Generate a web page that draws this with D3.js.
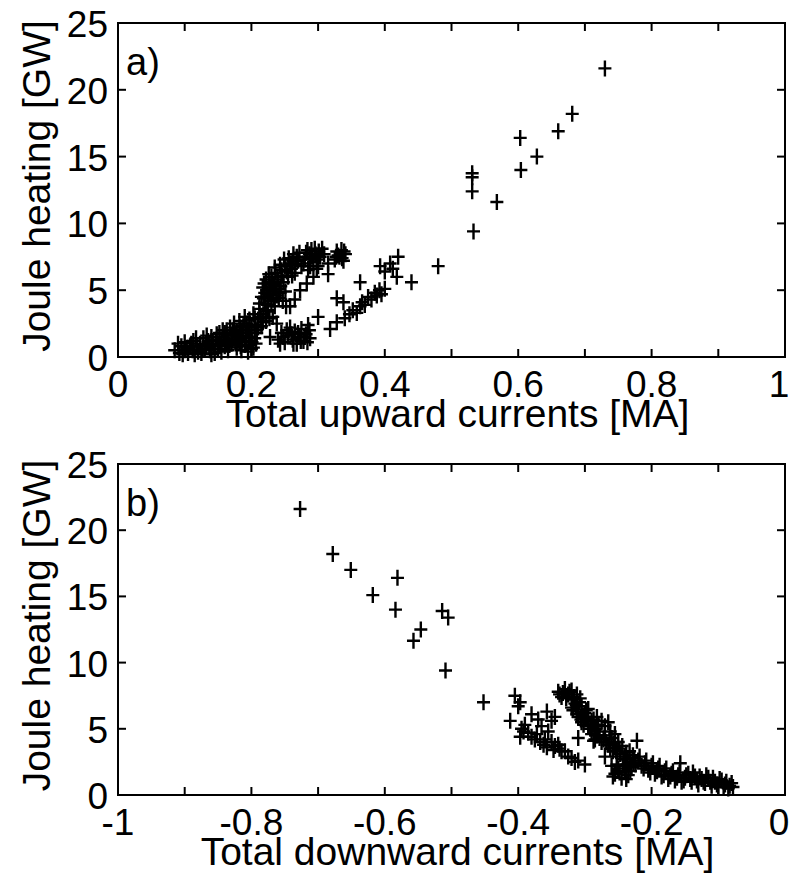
<!DOCTYPE html>
<html>
<head>
<meta charset="utf-8">
<script src="https://d3js.org/d3.v7.min.js"></script>
<style>
body { margin: 0; background: #fff; }
text { font-family: "Liberation Sans", Arial, Helvetica, sans-serif; fill: #000; }
</style>
</head>
<body>
<svg width="792" height="875"></svg>
<script>

// Total upward currents [MA] vs Joule heating [GW]
var upwardData = [
  [0.085,0.5],[0.092,0.3],[0.095,0.8],[0.100,0.5],[0.100,1.1],[0.105,0.3],[0.108,0.8],[0.112,0.5],
  [0.113,1.2],[0.118,0.8],[0.120,0.4],[0.123,1.0],[0.127,0.6],[0.128,1.4],[0.132,0.9],[0.135,1.2],
  [0.138,0.5],[0.140,1.5],[0.143,0.9],[0.147,1.3],[0.150,0.6],[0.152,1.8],[0.155,1.1],[0.158,1.5],
  [0.160,0.8],[0.163,2.0],[0.165,1.3],[0.168,2.2],[0.170,1.6],[0.174,2.5],[0.176,1.1],[0.178,1.9],
  [0.182,2.7],[0.184,0.8],[0.186,1.4],[0.188,2.3],[0.190,3.0],[0.192,1.1],[0.195,2.0],[0.197,2.8],
  [0.200,0.6],[0.200,1.5],[0.203,3.2],[0.205,2.4],[0.207,1.0],[0.208,1.8],[0.185,0.5],[0.190,0.9],
  [0.195,0.4],[0.198,1.2],[0.203,0.7],
  [0.090,1.0],[0.097,0.2],[0.103,0.7],[0.110,1.0],[0.115,0.2],[0.117,1.4],[0.125,0.3],[0.130,0.6],
  [0.133,1.6],[0.137,0.8],[0.142,1.2],[0.145,0.3],[0.148,1.7],[0.153,0.9],[0.157,2.0],[0.162,1.2],
  [0.167,0.9],[0.172,2.0],[0.172,1.3],[0.180,1.5],[0.183,2.2],[0.188,1.8],[0.193,2.5],[0.196,1.5],
  [0.200,2.2],[0.205,2.9],[0.201,1.1],
  [0.140,0.2],[0.150,1.0],[0.155,0.4],[0.160,1.8],[0.165,0.5],[0.170,1.0],[0.175,1.8],[0.178,0.7],
  [0.182,1.2],[0.186,2.0],[0.192,1.6],[0.197,2.3],[0.205,1.4],[0.210,2.2],[0.217,2.6],[0.222,3.4],
  [0.227,2.9],
  [0.210,2.8],[0.212,3.6],[0.215,2.3],[0.218,3.2],[0.220,4.0],[0.222,2.7],[0.225,3.5],[0.228,1.5],
  [0.230,4.2],[0.232,3.0],[0.235,3.8],[0.238,2.5],
  [0.215,4.5],[0.217,5.2],[0.220,4.8],[0.222,5.8],[0.225,4.4],[0.227,5.5],[0.230,6.0],[0.232,4.9],
  [0.234,5.4],[0.236,6.3],[0.238,4.6],[0.240,5.8],[0.242,5.1],[0.245,6.5],[0.247,4.2],[0.248,5.6],
  [0.250,6.8],[0.252,3.8],[0.255,6.0],[0.257,7.0],[0.260,6.6],[0.262,7.2],[0.265,6.3],[0.268,7.5],
  [0.212,4.0],[0.214,3.0],[0.218,4.4],[0.219,5.5],[0.223,5.0],[0.224,3.9],[0.226,6.2],[0.228,4.7],
  [0.229,5.2],[0.231,5.6],[0.233,4.3],[0.235,6.7],[0.237,5.1],[0.239,6.0],[0.241,4.4],[0.243,6.9],
  [0.244,5.3],[0.246,6.1],[0.249,7.3],[0.251,4.9],[0.253,6.4],[0.256,7.4],[0.259,7.0],[0.261,6.1],
  [0.263,7.7],[0.266,6.9],[0.270,7.2],[0.272,7.8],[0.275,6.8],[0.280,7.3],[0.284,8.0],[0.287,7.7],
  [0.291,7.5],[0.295,8.1],[0.298,7.3],[0.301,7.9],[0.309,7.7],[0.330,7.6],[0.336,7.4],[0.339,7.9],
  [0.327,7.5],
  [0.278,7.0],[0.282,7.8],[0.285,6.5],[0.288,7.4],[0.290,8.0],[0.293,7.1],[0.296,7.7],[0.300,6.8],
  [0.303,7.5],[0.306,8.1],[0.325,7.3],[0.328,7.9],[0.332,7.5],[0.335,8.0],[0.338,7.2],[0.341,7.7],
  [0.208,2.0],[0.243,4.8],[0.258,3.8],[0.265,4.3],[0.273,5.0],[0.283,5.5],[0.293,6.0],[0.288,6.8],
  [0.298,6.6],[0.315,7.0],[0.315,6.2],
  [0.240,1.3],[0.245,1.8],[0.250,1.1],[0.255,1.6],[0.258,2.2],[0.262,1.3],[0.265,1.9],[0.268,1.0],
  [0.272,1.5],[0.275,2.1],[0.278,1.2],[0.282,1.7],[0.285,2.4],[0.288,1.4],
  [0.243,1.0],[0.248,1.5],[0.253,2.0],[0.260,1.7],[0.263,1.0],[0.270,1.8],[0.274,1.2],[0.280,1.5],
  [0.284,1.1],[0.287,2.0],
  [0.300,3.0],[0.318,2.1],[0.328,2.6],[0.328,4.4],[0.338,4.1],[0.340,2.9],[0.347,3.2],[0.352,3.5],
  [0.358,3.3],[0.363,3.8],[0.366,4.1],[0.370,3.9],[0.375,4.5],[0.380,4.3],[0.385,4.8],[0.388,4.6],
  [0.392,5.0],[0.395,4.7],[0.400,5.1],[0.393,6.8],[0.400,6.4],[0.408,7.0],[0.412,6.6],[0.418,6.0],
  [0.420,7.5],[0.363,5.6],[0.440,5.6],[0.480,6.8],
  [0.533,9.4],[0.568,11.6],[0.531,12.4],[0.531,13.45],[0.531,13.75],[0.604,14.0],[0.628,15.0],
  [0.603,16.4],[0.660,16.9],[0.681,18.2],[0.730,21.6]
];

// Total downward currents [MA] vs Joule heating [GW]
var downwardData = [
  [-0.727,21.6],[-0.678,18.2],[-0.651,17.0],[-0.581,16.4],[-0.618,15.1],[-0.584,14.0],[-0.514,13.9],
  [-0.505,13.4],[-0.546,12.5],[-0.557,11.65],[-0.509,9.4],[-0.452,7.0],
  [-0.405,7.5],[-0.397,7.0],[-0.400,6.7],[-0.412,5.6],[-0.380,6.1],[-0.357,6.3],[-0.350,5.6],
  [-0.395,5.0],[-0.385,4.7],[-0.397,4.4],[-0.380,4.4],[-0.367,4.0],[-0.372,4.6],[-0.357,3.6],
  [-0.360,4.2],[-0.347,3.4],[-0.350,4.0],[-0.335,3.3],[-0.340,3.8],[-0.325,2.9],[-0.330,3.3],
  [-0.310,2.6],[-0.300,2.3],[-0.365,5.2],[-0.355,4.8],
  [-0.392,4.8],[-0.375,4.2],[-0.362,3.8],[-0.345,3.7],[-0.338,3.5],[-0.320,2.8],[-0.315,2.5],
  [-0.390,5.3],[-0.370,5.7],[-0.345,5.9],
  [-0.340,7.8],[-0.335,7.4],[-0.330,8.0],[-0.325,7.6],[-0.320,7.9],[-0.318,7.2],[-0.312,7.6],[-0.308,7.0],
  [-0.320,6.6],[-0.315,6.9],[-0.310,6.3],[-0.305,6.7],[-0.300,6.2],[-0.295,6.5],
  [-0.310,5.9],[-0.305,5.5],[-0.300,5.8],[-0.295,5.2],[-0.290,5.6],[-0.287,5.7],[-0.285,4.9],[-0.280,5.3],
  [-0.290,4.6],[-0.285,4.2],[-0.280,4.8],[-0.275,4.0],[-0.270,4.5],[-0.265,3.8],[-0.260,4.3],[-0.255,3.6],
  [-0.250,4.0],[-0.310,4.3],[-0.287,4.1],
  [-0.270,5.2],[-0.262,4.8],[-0.255,4.6],[-0.275,5.6],[-0.282,5.9],[-0.265,5.5],
  [-0.338,7.6],[-0.333,7.7],[-0.328,7.3],[-0.323,7.8],[-0.316,7.4],[-0.313,6.8],[-0.307,7.3],[-0.318,6.4],
  [-0.312,6.1],[-0.303,6.0],[-0.298,6.4],[-0.306,5.7],[-0.302,5.3],[-0.297,5.9],[-0.292,5.0],[-0.288,5.3],
  [-0.283,5.0],[-0.282,4.5],[-0.278,4.3],[-0.272,4.2],[-0.268,4.0],[-0.263,4.2],[-0.262,3.5],[-0.257,3.9],
  [-0.253,3.3],[-0.247,3.1],[-0.244,3.7],[-0.240,2.9],[-0.236,2.7],[-0.233,3.3],[-0.226,2.8],[-0.224,2.3],
  [-0.218,2.9],[-0.212,2.0],[-0.208,2.6],[-0.202,1.7],[-0.198,2.4],[-0.192,1.8],[-0.188,2.2],[-0.182,1.5],
  [-0.178,2.0],[-0.172,1.4],[-0.168,1.8],[-0.162,1.3],[-0.158,1.7],[-0.152,1.1],[-0.148,1.5],[-0.142,1.2],
  [-0.138,1.7],[-0.132,1.1],[-0.128,1.4],[-0.122,1.0],[-0.118,1.5],[-0.112,1.0],[-0.108,1.3],[-0.102,0.8],
  [-0.098,1.2],[-0.092,0.6],[-0.088,1.0],[-0.083,0.7],[-0.258,1.4],[-0.252,2.3],[-0.248,1.7],[-0.243,2.2],
  [-0.238,1.2],[-0.232,1.8],[-0.227,2.4],[-0.237,2.3],
  [-0.258,3.3],[-0.252,2.9],[-0.248,3.5],[-0.242,2.7],[-0.238,3.2],[-0.232,2.5],[-0.228,3.0],[-0.222,4.1],
  [-0.220,2.6],[-0.215,2.2],[-0.270,2.9],
  [-0.260,2.2],[-0.255,1.6],[-0.250,2.0],[-0.245,1.3],[-0.240,1.8],[-0.235,1.5],[-0.230,2.1],
  [-0.210,2.4],[-0.205,1.9],[-0.200,2.2],[-0.195,1.6],[-0.190,2.0],[-0.185,1.4],[-0.180,1.8],[-0.175,1.2],
  [-0.170,1.6],[-0.165,1.1],[-0.160,1.5],[-0.157,2.4],[-0.155,1.0],[-0.150,1.3],
  [-0.145,1.6],[-0.140,1.0],[-0.135,1.4],[-0.130,0.8],[-0.125,1.2],[-0.120,0.9],[-0.115,1.3],[-0.110,0.7],
  [-0.105,1.0],[-0.100,0.6],[-0.095,1.1],[-0.090,0.8],[-0.085,0.5],[-0.080,0.9],[-0.078,0.6]
];

var heatTicks = [0, 5, 10, 15, 20, 25];
var upTicks = [0, 0.1, 0.2, 0.3, 0.4, 0.5, 0.6, 0.7, 0.8, 0.9, 1];
var upLabels = ["0", "0.2", "0.4", "0.6", "0.8", "1"];
var downTicks = [-1, -0.9, -0.8, -0.7, -0.6, -0.5, -0.4, -0.3, -0.2, -0.1, 0];
var downLabels = ["-1", "-0.8", "-0.6", "-0.4", "-0.2", "0"];

var svg = d3.select("svg");

var left = 118, right = 785;
var fontSize = 37;
var tickLen = 8;

function panel(data, domain, ticks, labels, top, bottom, xTitle, tag) {
  var x = d3.scaleLinear().domain(domain).range([left, right]);
  var y = d3.scaleLinear().domain([0, 25]).range([bottom, top]);
  var g = svg.append("g");

  // points
  g.append("g").selectAll("path")
    .data(data)
    .enter().append("path")
      .attr("d", "M-6.5,0H6.5M0,-8V8")
      .attr("transform", function(d) { return "translate(" + x(d[0]) + "," + y(d[1]) + ")"; })
      .attr("stroke", "#000")
      .attr("stroke-width", 2.4)
      .attr("fill", "none");

  // inward ticks on all four sides
  var tk = g.append("g").attr("stroke", "#000").attr("stroke-width", 2);
  ticks.forEach(function(t) {
    tk.append("line").attr("x1", x(t)).attr("x2", x(t)).attr("y1", bottom).attr("y2", bottom - tickLen);
    tk.append("line").attr("x1", x(t)).attr("x2", x(t)).attr("y1", top).attr("y2", top + tickLen);
  });
  heatTicks.forEach(function(t) {
    tk.append("line").attr("x1", left).attr("x2", left + tickLen).attr("y1", y(t)).attr("y2", y(t));
    tk.append("line").attr("x1", right).attr("x2", right - tickLen).attr("y1", y(t)).attr("y2", y(t));
  });

  g.append("rect")
    .attr("x", left).attr("y", top)
    .attr("width", right - left).attr("height", bottom - top)
    .attr("fill", "none").attr("stroke", "#000").attr("stroke-width", 2);

  // tick labels
  var labVals = ticks.filter(function(t, i) { return i % 2 === 0; });
  g.append("g").selectAll("text")
    .data(labVals)
    .enter().append("text")
      .attr("x", function(d, i) { return i === labVals.length - 1 ? x(d) - 6 : x(d); })
      .attr("y", bottom + 40)
      .attr("text-anchor", "middle")
      .style("font-size", fontSize + "px")
      .text(function(d, i) { return labels[i]; });

  g.append("g").selectAll("text")
    .data(heatTicks)
    .enter().append("text")
      .attr("x", left - 10)
      .attr("y", function(d) { return y(d) + 14; })
      .attr("text-anchor", "end")
      .style("font-size", fontSize + "px")
      .text(function(d) { return d; });

  g.append("text")
    .attr("x", (left + right) / 2 + 6)
    .attr("y", bottom + 70)
    .attr("text-anchor", "middle")
    .style("font-size", "39px")
    .text(xTitle);

  g.append("text")
    .attr("transform", "translate(50," + ((top + bottom) / 2 - 4) + ") rotate(-90)")
    .attr("text-anchor", "middle")
    .style("font-size", "39px")
    .text("Joule heating [GW]");

  g.append("text")
    .attr("x", left + 8)
    .attr("y", top + 52)
    .style("font-size", "38px")
    .text(tag);
}

panel(upwardData, [0, 1], upTicks, upLabels, 23, 357, "Total upward currents [MA]", "a)");
panel(downwardData, [-1, 0], downTicks, downLabels, 464, 795, "Total downward currents [MA]", "b)");

</script>
</body>
</html>
